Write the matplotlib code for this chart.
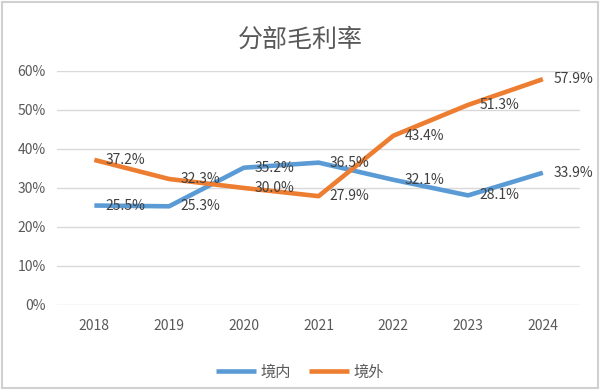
import matplotlib.pyplot as plt
from matplotlib.patches import Rectangle

plt.rcParams['font.family'] = ['Noto Sans CJK SC', 'DejaVu Sans']

years = ['2018', '2019', '2020', '2021', '2022', '2023', '2024']
domestic = [25.5, 25.3, 35.2, 36.5, 32.1, 28.1, 33.9]
overseas = [37.2, 32.3, 30.0, 27.9, 43.4, 51.3, 57.9]
y_ticks = [0, 10, 20, 30, 40, 50, 60]

blue = '#5B9BD5'
orange = '#ED7D31'
grey_text = '#595959'

fig = plt.figure(figsize=(6, 3.9), dpi=100)
ax = fig.add_axes([0.095, 0.218, 0.872, 0.6])

x = range(len(years))
ax.plot(x, domestic, color=blue, lw=3.3, label='境内', solid_capstyle='butt', zorder=3)
ax.plot(x, overseas, color=orange, lw=3.3, label='境外', solid_capstyle='butt', zorder=3)

for series in (domestic, overseas):
    for i, v in enumerate(series):
        ax.annotate(f'{v:.1f}%', (i, v), xytext=(8, 0), textcoords='offset points',
                    ha='left', va='center', fontsize=10, color='#404040', zorder=4)

ax.set_xlim(-0.5, len(years) - 0.5)
ax.set_ylim(0, 60)
ax.set_yticks(y_ticks)
ax.set_yticklabels([f'{t}%' for t in y_ticks])
ax.set_xticks(list(x))
ax.set_xticklabels(years)
ax.tick_params(length=0, labelsize=10, labelcolor=grey_text)
ax.tick_params(axis='x', pad=10)
ax.tick_params(axis='y', pad=8)
ax.grid(axis='y', color='#D9D9D9', lw=1)
ax.set_axisbelow(True)
for s in ax.spines.values():
    s.set_visible(False)

fig.text(0.5, 0.897, '分部毛利率', ha='center', va='center', fontsize=18, color=grey_text)

fig.legend(loc='center', bbox_to_anchor=(0.5, 0.046), ncol=2, frameon=False,
           fontsize=11, labelcolor=grey_text, handlelength=2.6, handletextpad=0.3,
           columnspacing=1.2)

fig.patches.append(Rectangle((0.003, 0.004), 0.994, 0.992, transform=fig.transFigure,
                             fill=False, edgecolor='#D0D0D0', lw=1.5))

fig.savefig('out.png', dpi=100)
